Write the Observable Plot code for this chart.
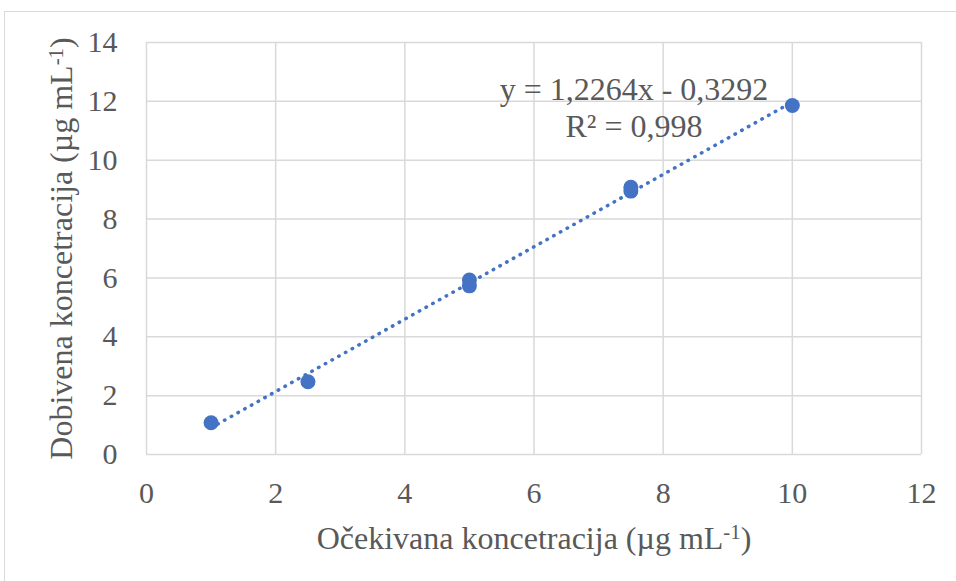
<!DOCTYPE html>
<html>
<head>
<meta charset="utf-8">
<script src="https://cdn.jsdelivr.net/npm/d3@7"></script>
<script src="https://cdn.jsdelivr.net/npm/@observablehq/plot@0.6"></script>
<style>
  html, body { margin: 0; padding: 0; background: #fff; overflow: hidden; }
  #wrap { position: relative; width: 956px; height: 581px; }
  #border { position: absolute; left: 4px; top: 11px; width: 1100px; height: 1100px;
            border: 1.5px solid #d9d9d9; box-sizing: border-box; }
  #chart { position: absolute; left: 0; top: 0; }
  #chart svg text { font-family: 'Liberation Serif', 'Times New Roman', serif; }
</style>
</head>
<body>
<div id="wrap"><div id="border"></div><div id="chart"></div></div>
<script>
const expected = [1, 2.5, 5, 5, 7.5, 7.5, 10];
const obtained = [1.08, 2.47, 5.93, 5.73, 9.08, 8.95, 11.86];
const xTicks = [0, 2, 4, 6, 8, 10, 12];
const yTicks = [0, 2, 4, 6, 8, 10, 12, 14];
const equationLines = ["y = 1,2264x - 0,3292", "R² = 0,998"];
const xTitle = ["Očekivana koncetracija (µg mL", "-1", ")"];
const yTitle = ["Dobivena koncetracija (µg mL", "-1", ")"];

const data = expected.map((x, i) => ({x, y: obtained[i]}));
const font = "'Liberation Serif', 'Times New Roman', serif";
const blue = "#4472C4";
const grid = "#d9d9d9";
const textColor = "#595959";

const chart = Plot.plot({
  width: 956, height: 581,
  marginLeft: 146, marginRight: 35, marginTop: 42, marginBottom: 127,
  style: {fontFamily: font, fontSize: "30px", color: textColor, background: "transparent"},
  x: {domain: [0, 12]},
  y: {domain: [0, 14]},
  marks: [
    Plot.gridX(xTicks, {stroke: grid, strokeOpacity: 1, strokeWidth: 1.5}),
    Plot.gridY(yTicks, {stroke: grid, strokeOpacity: 1, strokeWidth: 1.5}),
    Plot.axisX(xTicks, {tickSize: 0, tickPadding: 27, fill: textColor, fontSize: 30, fontFamily: font,
      label: xTitle.join(""), labelAnchor: "center", labelArrow: "none", labelOffset: 94}),
    Plot.axisY(yTicks, {tickSize: 0, tickPadding: 29, fill: textColor, fontSize: 30, fontFamily: font,
      label: yTitle.join(""), labelAnchor: "center", labelArrow: "none", labelOffset: 97}),
    Plot.linearRegressionY(data, {x: "x", y: "y", ci: 0, stroke: blue, strokeWidth: 3.5,
      strokeDasharray: "0.5 7.2", strokeLinecap: "round"}),
    Plot.dot(data, {x: "x", y: "y", r: 7.5, fill: blue, stroke: "none"}),
    Plot.text([equationLines.join("\n")], {frameAnchor: "top", dx: 100, dy: 64,
      lineAnchor: "middle", lineHeight: 1.15, fontSize: 32, fontFamily: font, fill: textColor})
  ]
});
document.getElementById("chart").appendChild(chart);

function superscript(selector, parts) {
  const t = d3.select(chart).select(selector);
  if (t.empty()) return;
  t.text(null);
  t.append("tspan").text(parts[0]);
  t.append("tspan").attr("dy", "-0.45em").attr("font-size", "0.65em").text(parts[1]);
  t.append("tspan").attr("dy", "0.3em").text(parts[2]);
}
superscript('g[aria-label="x-axis label"] text', xTitle);
superscript('g[aria-label="y-axis label"] text', yTitle);
d3.select(chart).selectAll('g[aria-label="x-axis label"] text, g[aria-label="y-axis label"] text')
  .attr("font-size", 32).attr("fill", textColor);
d3.select(chart).selectAll("g, text").attr("font-family", font);
</script>
</body>
</html>
